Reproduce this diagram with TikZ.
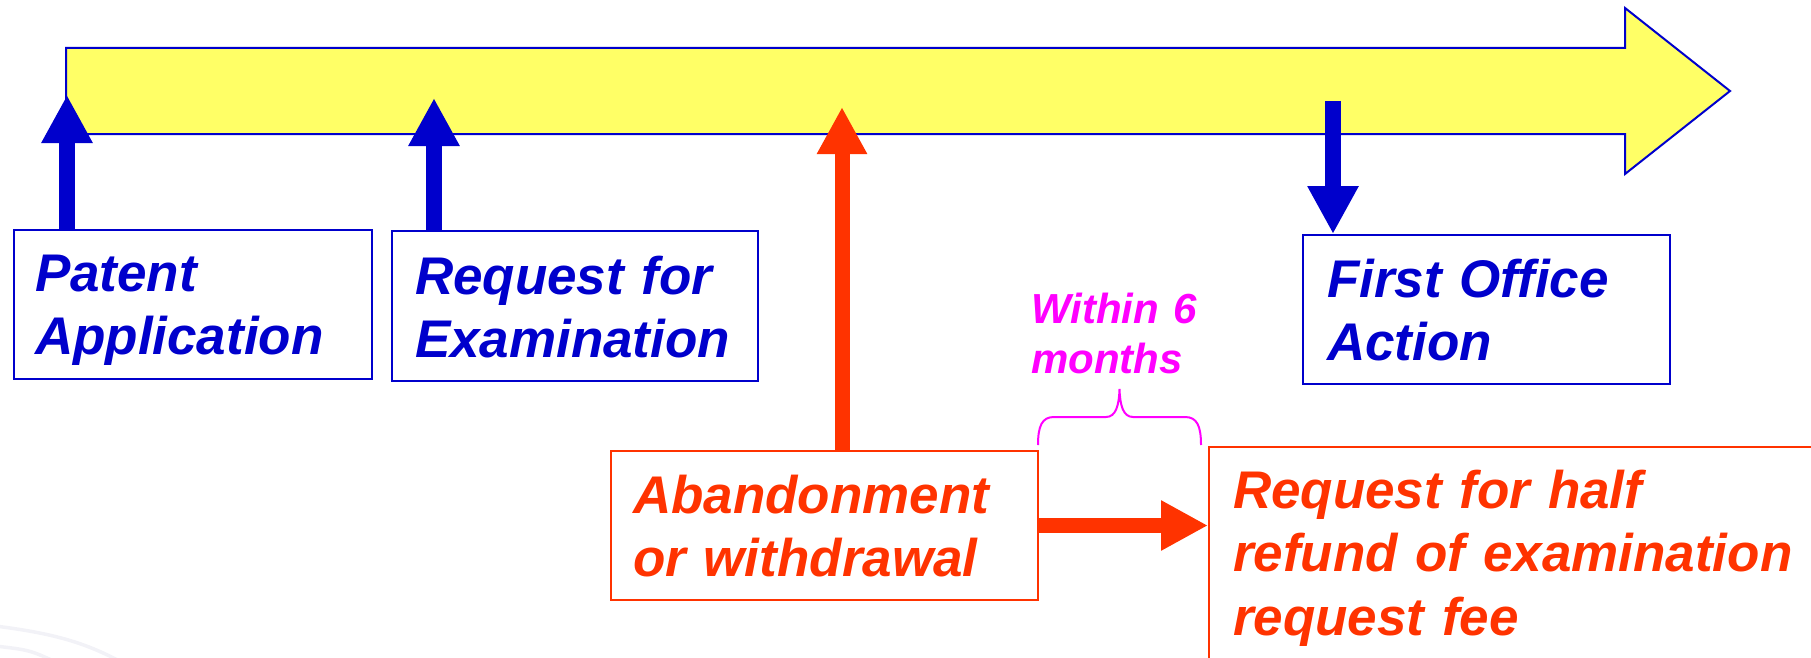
\documentclass[tikz,border=0pt]{standalone}
\usepackage{fontspec}
\setmainfont{Liberation Sans}
\usetikzlibrary{arrows.meta}
\definecolor{tblue}{HTML}{0000CC}
\definecolor{tyellow}{HTML}{FFFF66}
\definecolor{tred}{HTML}{FF3300}
\definecolor{tmag}{HTML}{FF00FF}
\definecolor{swoosh}{RGB}{242,242,247}
\begin{document}
\begin{tikzpicture}[x=1pt,y=-1pt,
  lab/.style={font=\fontsize{53}{63.5}\selectfont\bfseries\itshape, align=left,
    anchor=north west, inner ysep=0pt, line width=2pt},
  bluebox/.style={lab, draw=tblue, text=tblue},
  redbox/.style={lab, draw=tred, text=tred},
  bluearrow/.style={draw=tblue, line width=16pt, -{Triangle[width=48pt,length=48pt]}},
  redarrow/.style={draw=tred, line width=15pt, -{Triangle[width=47pt,length=47pt]}},
  bigarrow/.style={draw=tblue, fill=tyellow, line width=2pt},
  bracestyle/.style={draw=tmag, line width=2pt},
  note/.style={font=\fontsize{42}{50}\selectfont\bfseries\itshape, text=tmag,
    align=left, anchor=north west, inner sep=0pt}
]
\useasboundingbox (0,0) rectangle (1811,658);
\clip (0,0) rectangle (1811,658);

% faint background swoosh
\draw[swoosh, line width=3.5pt] (-5,626) .. controls (60,634) and (90,645) .. (125,664);
\draw[swoosh, line width=3.5pt] (-5,646) .. controls (30,650) .. (60,664);

% timeline arrow
\draw[bigarrow] (66,48) -- (1625,48) -- (1625,8) -- (1730,91) -- (1625,174)
  -- (1625,134) -- (66,134) -- cycle;

% boxes
\node[bluebox, inner xsep=21pt, text width=316pt, text height=61pt, text depth=88pt]
  (pa) at (13,229) {Patent\\Application};
\node[bluebox, inner xsep=23pt, text width=320pt, text height=63pt, text depth=87pt]
  (re) at (391,230) {Request for\\Examination};
\node[bluebox, inner xsep=24pt, text width=319pt, text height=62pt, text depth=87pt]
  (fo) at (1302,234) {First Office\\Action};
\node[redbox, inner xsep=22pt, text width=383pt, text height=62pt, text depth=87pt]
  (ab) at (610,450) {Abandonment\\or withdrawal};
\node[redbox, inner xsep=24pt, text width=652pt, text height=61pt, text depth=300pt]
  (rf) at (1208,446) {Request for half\\refund of examination\\request fee};

% note and brace
\node[note, text width=200pt, text height=31pt] (w6) at (1031,292) {Within 6\\months};
\coordinate (bl) at (1038,445);
\coordinate (br) at (1201,445);
\draw[bracestyle] (bl) .. controls (1038,426) and (1042,417) .. (1054,417)
  -- (1106,417) .. controls (1116,417) and (1119,405) .. (1119.5,389)
  .. controls (1120,405) and (1123,417) .. (1133,417)
  -- (1185,417) .. controls (1197,417) and (1201,426) .. (br);

% connectors
\coordinate (pa-tip) at (67,95);
\coordinate (re-tip) at (434,98);
\coordinate (fo-start) at (1333,101);
\coordinate (ab-tip) at (842,107);
\draw[bluearrow] (pa.north -| pa-tip) -- (pa-tip);
\draw[bluearrow] (re.north -| re-tip) -- (re-tip);
\draw[bluearrow] (fo-start) -- (fo-start |- fo.north);
\draw[redarrow] (ab.north -| ab-tip) -- (ab-tip);
\draw[redarrow] (ab.east) -- (rf.west |- ab.east);
\end{tikzpicture}
\end{document}
